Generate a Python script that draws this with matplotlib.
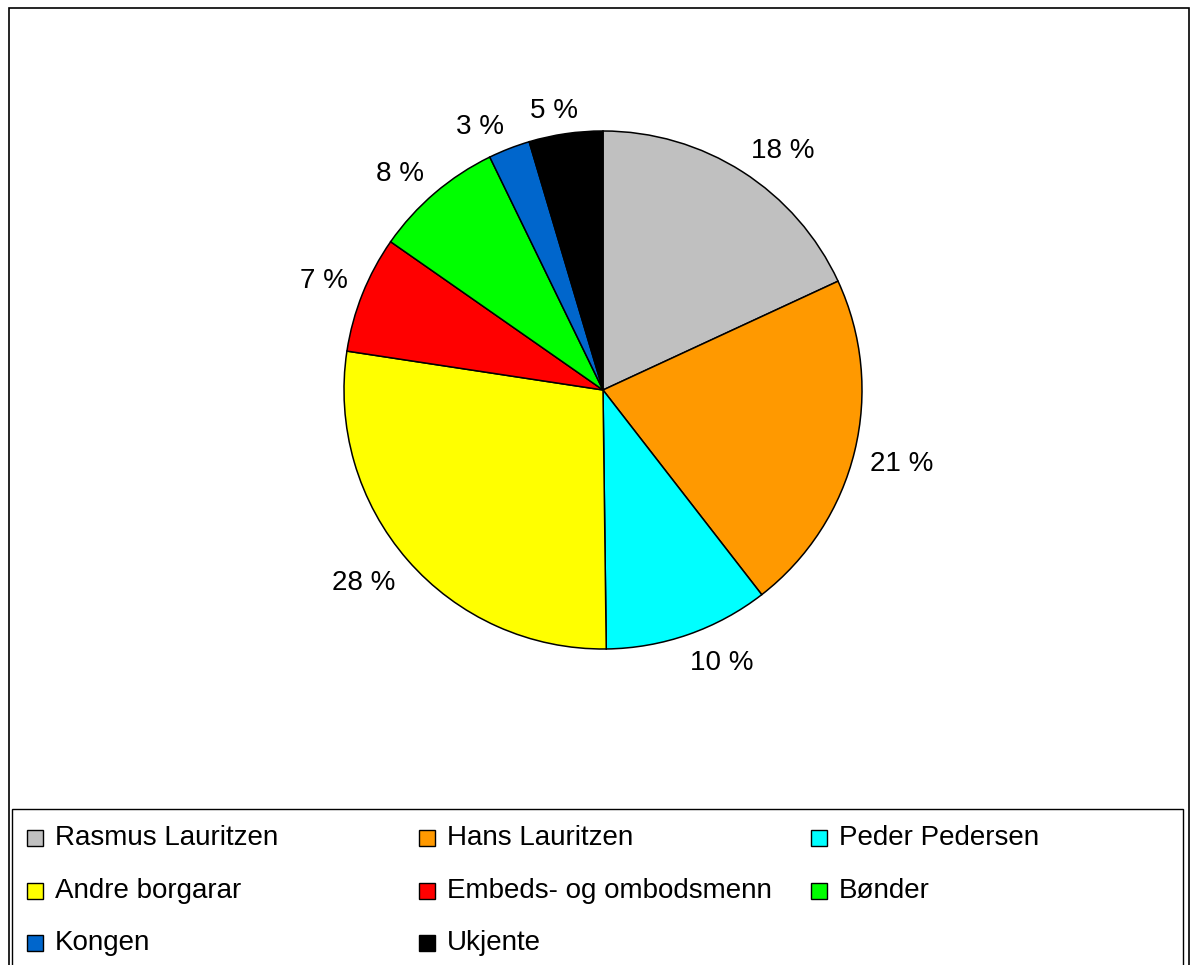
import numpy as np
import matplotlib
matplotlib.use("Agg")
import matplotlib.pyplot as plt
from matplotlib.patches import Rectangle

plt.rcParams['font.family'] = ['Liberation Sans', 'DejaVu Sans']

categories = ["Rasmus Lauritzen", "Hans Lauritzen", "Peder Pedersen",
              "Andre borgarar", "Embeds- og ombodsmenn", "Bønder",
              "Kongen", "Ukjente"]
values = [18.1, 21.4, 10.3, 27.6, 7.3, 8.1, 2.6, 4.6]
colors = ["#C0C0C0", "#FF9900", "#00FFFF", "#FFFF00", "#FF0000",
          "#00FF00", "#0066CC", "#000000"]

W, H = 1192, 965
fig = plt.figure(figsize=(W / 100, H / 100), dpi=100)
fig.patch.set_facecolor("white")

# outer border
fig.add_artist(Rectangle((9 / W, -0.01), (1189 - 9) / W, (H - 8) / H + 0.01,
                         transform=fig.transFigure, fill=False,
                         edgecolor="black", linewidth=1.2))

cx, cy, r = 603, 390, 259
ax = fig.add_axes([(cx - r) / W, (H - cy - r) / H, 2 * r / W, 2 * r / H])
wedges, texts, autotexts = ax.pie(
    values, colors=colors, startangle=90, counterclock=False,
    autopct=lambda p: f"{p:.0f} %", pctdistance=1.18,
    wedgeprops=dict(edgecolor="black", linewidth=1.1),
    textprops=dict(fontsize=20, color="black"))
ax.set_xlim(-1, 1)
ax.set_ylim(-1, 1)
ax.set_aspect("equal")
ax.axis("off")

# outside-end labels: the label box touches a point just outside the rim,
# with the touching point sliding smoothly along the box edges
fig.canvas.draw()
renderer = fig.canvas.get_renderer()
d = 1.062
k = 0.38
cap = 0.716 * 20 * 100 / 72 / r   # cap height in data units
for w, t in zip(wedges, autotexts):
    ang = np.deg2rad((w.theta1 + w.theta2) / 2)
    ux, uy = np.cos(ang), np.sin(ang)
    ax_, ay_ = d * ux, d * uy
    bw = t.get_window_extent(renderer).width / r
    fx = 0.5 - 0.5 * np.clip(ux / k, -1, 1)
    ftop = 0.5 + 0.5 * np.clip(uy / k, -1, 1)
    t.set_ha("left")
    t.set_va("baseline")
    t.set_position((ax_ - fx * bw, ay_ - (1 - ftop) * cap))

# legend box
fig.add_artist(Rectangle((12 / W, -0.01), (1183 - 12) / W, (H - 809) / H + 0.01,
                         transform=fig.transFigure, fill=False,
                         edgecolor="black", linewidth=1.0))
col_x = [27, 419, 811]
row_y = [838, 891, 943]
for i, (cat, col) in enumerate(zip(categories, colors)):
    x0 = col_x[i % 3]
    y0 = row_y[i // 3]
    fig.add_artist(Rectangle((x0 / W, (H - y0 - 8) / H), 16 / W, 16 / H,
                             transform=fig.transFigure, facecolor=col,
                             edgecolor="black", linewidth=1.0))
    fig.text((x0 + 28) / W, (H - y0) / H, cat, fontsize=20,
             va="center", ha="left")

fig.savefig("out.png", dpi=100)
